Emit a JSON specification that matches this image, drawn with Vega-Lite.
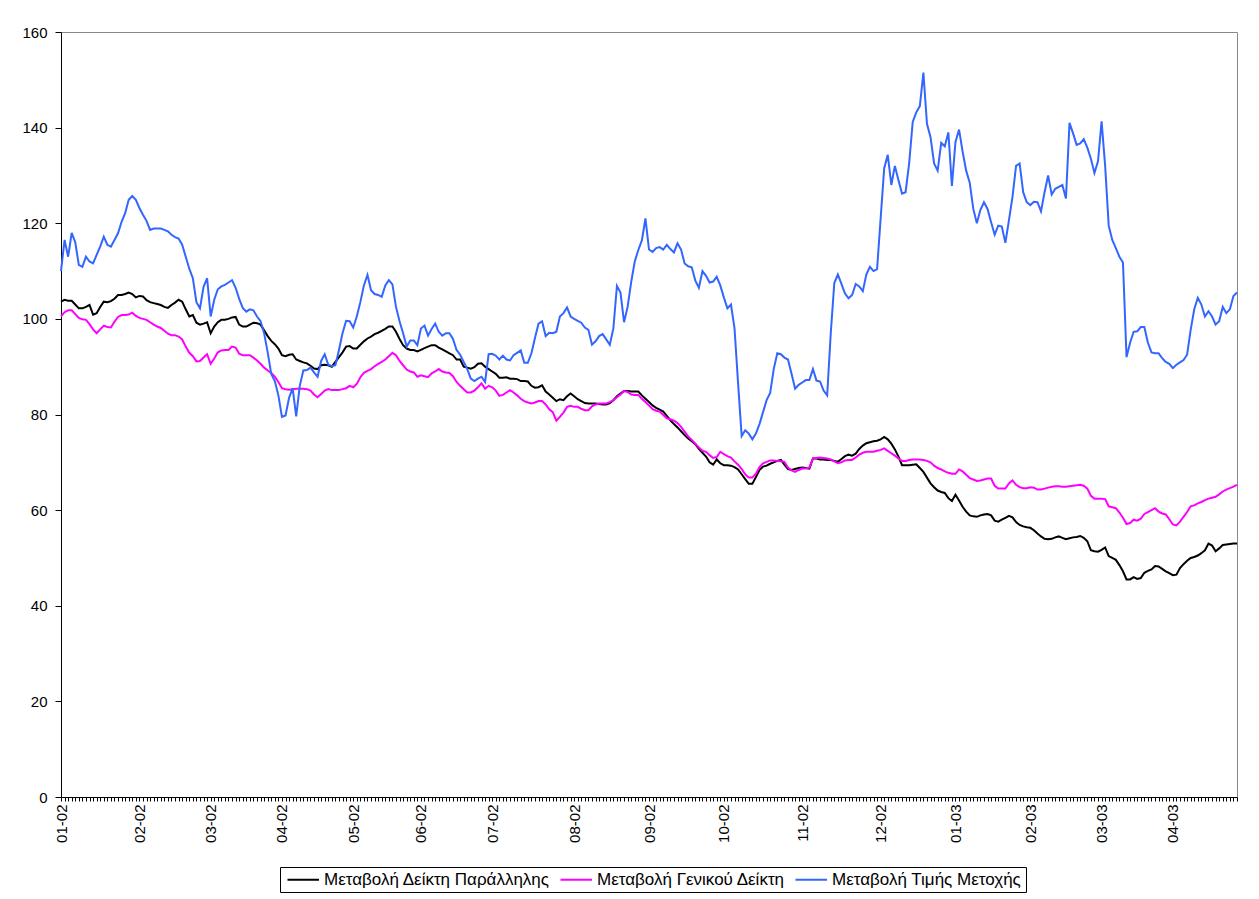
{
"$schema": "https://vega.github.io/schema/vega-lite/v6.json",
"width": 1176, "height": 765,
"autosize": "none",
"padding": {"left": 61, "top": 32, "right": 22, "bottom": 102},
"background": "#ffffff",
"config": {"view": {"stroke": "#888888", "strokeWidth": 1}, "font": "Liberation Sans"},
"data": {"values": [
{"d":0,"a":103.6,"b":100.5,"c":110},{"d":1,"a":104,"b":101.4,"c":116.5},{"d":2,"a":103.8,"b":101.8,"c":113},{"d":3,"a":103.8,"b":101.8,"c":118},{"d":4,"a":103,"b":101,"c":116},{"d":5,"a":102.2,"b":100.2,"c":111.3},{"d":6,"a":102.2,"b":99.9,"c":110.9},{"d":7,"a":102.5,"b":99.8,"c":113},{"d":8,"a":102.9,"b":98.9,"c":112},{"d":9,"a":100.9,"b":97.8,"c":111.6},
{"d":10,"a":101.2,"b":97,"c":113.4},{"d":11,"a":102.5,"b":97.8,"c":115.1},{"d":12,"a":103.6,"b":98.6,"c":117.2},{"d":13,"a":103.5,"b":98.3,"c":115.5},{"d":14,"a":103.7,"b":98.2,"c":115.1},{"d":15,"a":104.2,"b":99.4,"c":116.5},{"d":16,"a":105,"b":100.4,"c":117.9},{"d":17,"a":105,"b":100.8,"c":120.3},{"d":18,"a":105.2,"b":100.8,"c":122.1},{"d":19,"a":105.5,"b":100.9,"c":124.9},
{"d":20,"a":105.2,"b":101.3,"c":125.7},{"d":21,"a":104.5,"b":100.6,"c":124.9},{"d":22,"a":104.8,"b":100.2,"c":123.2},{"d":23,"a":104.7,"b":100,"c":121.8},{"d":24,"a":103.9,"b":99.8,"c":120.5},{"d":25,"a":103.5,"b":99.3,"c":118.6},{"d":26,"a":103.3,"b":98.8,"c":118.9},{"d":27,"a":103.1,"b":98.4,"c":118.9},{"d":28,"a":102.9,"b":98.1,"c":118.9},{"d":29,"a":102.5,"b":97.5,"c":118.6},
{"d":30,"a":102.3,"b":96.9,"c":118.3},{"d":31,"a":102.9,"b":96.6,"c":117.6},{"d":32,"a":103.4,"b":96.6,"c":117.1},{"d":33,"a":104,"b":96.3,"c":116.8},{"d":34,"a":103.6,"b":95.7,"c":115.5},{"d":35,"a":102,"b":94.2,"c":113},{"d":36,"a":100.5,"b":92.9,"c":110.5},{"d":37,"a":100.8,"b":92.2,"c":108.5},{"d":38,"a":99.2,"b":91.1,"c":103.5},{"d":39,"a":98.8,"b":91.2,"c":102.2},
{"d":40,"a":99,"b":91.9,"c":106.7},{"d":41,"a":99.3,"b":92.6,"c":108.5},{"d":42,"a":97,"b":90.6,"c":100.5},{"d":43,"a":98.4,"b":91.7,"c":104},{"d":44,"a":99.3,"b":93,"c":106.2},{"d":45,"a":99.8,"b":93.4,"c":106.8},{"d":46,"a":99.8,"b":93.5,"c":107.1},{"d":47,"a":100,"b":93.5,"c":107.6},{"d":48,"a":100.3,"b":94.2,"c":108.1},{"d":49,"a":100.4,"b":94,"c":106.5},
{"d":50,"a":98.8,"b":92.7,"c":104.2},{"d":51,"a":98.4,"b":92.4,"c":102.3},{"d":52,"a":98.4,"b":92.4,"c":101.5},{"d":53,"a":98.8,"b":92.4,"c":102},{"d":54,"a":99.2,"b":91.9,"c":101.8},{"d":55,"a":99.1,"b":91.3,"c":100.5},{"d":56,"a":98.8,"b":90.6,"c":99.5},{"d":57,"a":97.6,"b":89.8,"c":97},{"d":58,"a":96.4,"b":89.2,"c":93},{"d":59,"a":95.4,"b":88.7,"c":88.5},
{"d":60,"a":94.7,"b":87.9,"c":87},{"d":61,"a":93.8,"b":86.8,"c":84},{"d":62,"a":92.4,"b":85.5,"c":79.5},{"d":63,"a":92.2,"b":85.3,"c":79.8},{"d":64,"a":92.5,"b":85.2,"c":83.5},{"d":65,"a":92.6,"b":85.3,"c":85.5},{"d":66,"a":91.5,"b":85.4,"c":79.6},{"d":67,"a":91.2,"b":85.4,"c":86},{"d":68,"a":90.9,"b":85.4,"c":89.2},{"d":69,"a":90.7,"b":85.3,"c":89.3},
{"d":70,"a":90.2,"b":85,"c":89.8},{"d":71,"a":89.6,"b":84.2,"c":88.8},{"d":72,"a":89.5,"b":83.6,"c":87.9},{"d":73,"a":90.3,"b":84.3,"c":91.2},{"d":74,"a":90.4,"b":85,"c":92.6},{"d":75,"a":90.3,"b":85.3,"c":90.4},{"d":76,"a":90,"b":85.1,"c":90.1},{"d":77,"a":91,"b":85.1,"c":90.3},{"d":78,"a":92,"b":85.1,"c":93.5},{"d":79,"a":93,"b":85.3,"c":97},
{"d":80,"a":94.2,"b":85.5,"c":99.6},{"d":81,"a":94.3,"b":86,"c":99.5},{"d":82,"a":93.8,"b":85.7,"c":98.2},{"d":83,"a":93.8,"b":86.4,"c":100.5},{"d":84,"a":94.6,"b":87.8,"c":103.5},{"d":85,"a":95.3,"b":88.7,"c":107},{"d":86,"a":95.9,"b":89.1,"c":109.2},{"d":87,"a":96.3,"b":89.5,"c":106},{"d":88,"a":96.8,"b":90.1,"c":105.2},{"d":89,"a":97.1,"b":90.6,"c":105},
{"d":90,"a":97.5,"b":91,"c":104.6},{"d":91,"a":97.9,"b":91.5,"c":107},{"d":92,"a":98.4,"b":92.2,"c":108.1},{"d":93,"a":98.4,"b":92.9,"c":107.2},{"d":94,"a":97.3,"b":92.4,"c":102.5},{"d":95,"a":95.8,"b":91.2,"c":99.5},{"d":96,"a":94.5,"b":90.3,"c":97},{"d":97,"a":93.8,"b":89.4,"c":94.2},{"d":98,"a":93.5,"b":89,"c":95.5},{"d":99,"a":93.5,"b":88.8,"c":95.5},
{"d":100,"a":93.2,"b":87.9,"c":94.5},{"d":101,"a":93.5,"b":88.2,"c":98},{"d":102,"a":93.9,"b":88,"c":98.6},{"d":103,"a":94.2,"b":87.8,"c":96.5},{"d":104,"a":94.5,"b":88.6,"c":97.9},{"d":105,"a":94.5,"b":89,"c":99},{"d":106,"a":94,"b":89.5,"c":97.3},{"d":107,"a":93.6,"b":89,"c":96.5},{"d":108,"a":93.2,"b":88.8,"c":97},{"d":109,"a":92.8,"b":88.7,"c":97},
{"d":110,"a":92.4,"b":88,"c":95.8},{"d":111,"a":91.5,"b":86.8,"c":93.5},{"d":112,"a":91.5,"b":86,"c":92.5},{"d":113,"a":90,"b":85.3,"c":91},{"d":114,"a":89.8,"b":84.6,"c":89.5},{"d":115,"a":89.6,"b":84.6,"c":87.5},{"d":116,"a":89.9,"b":85,"c":87},{"d":117,"a":90.6,"b":85.7,"c":87.5},{"d":118,"a":90.7,"b":86.5,"c":87.9},{"d":119,"a":90,"b":85.4,"c":86.8},
{"d":120,"a":89.5,"b":86,"c":92.6},{"d":121,"a":89,"b":85.7,"c":92.7},{"d":122,"a":88.5,"b":85,"c":92.3},{"d":123,"a":87.7,"b":83.9,"c":91.5},{"d":124,"a":87.7,"b":84.1,"c":92.3},{"d":125,"a":87.8,"b":84.6,"c":91.5},{"d":126,"a":87.5,"b":85.1,"c":91.3},{"d":127,"a":87.5,"b":84.6,"c":92.4},{"d":128,"a":87.4,"b":84,"c":92.9},{"d":129,"a":87,"b":83.3,"c":93.4},
{"d":130,"a":87,"b":82.8,"c":90.8},{"d":131,"a":86.9,"b":82.5,"c":90.8},{"d":132,"a":86,"b":82.3,"c":92.8},{"d":133,"a":85.6,"b":82.5,"c":96},{"d":134,"a":85.7,"b":82.8,"c":99},{"d":135,"a":86.1,"b":82.8,"c":99.5},{"d":136,"a":84.8,"b":82.1,"c":96.4},{"d":137,"a":84.2,"b":81.1,"c":97.1},{"d":138,"a":83.5,"b":80.5,"c":97},{"d":139,"a":82.8,"b":78.7,"c":97.3},
{"d":140,"a":83.2,"b":79.5,"c":100.5},{"d":141,"a":83,"b":80.4,"c":101.2},{"d":142,"a":83.8,"b":81.6,"c":102.4},{"d":143,"a":84.4,"b":81.8,"c":100.5},{"d":144,"a":83.8,"b":81.6,"c":100},{"d":145,"a":83.2,"b":81.6,"c":99.6},{"d":146,"a":82.8,"b":81.2,"c":99.2},{"d":147,"a":82.4,"b":80.9,"c":98.2},{"d":148,"a":82.3,"b":80.9,"c":97.7},{"d":149,"a":82.3,"b":81.7,"c":94.6},
{"d":150,"a":82.3,"b":82.1,"c":95.3},{"d":151,"a":82.2,"b":82.3,"c":96.4},{"d":152,"a":82.1,"b":82.3,"c":96.8},{"d":153,"a":82.1,"b":82.3,"c":95.7},{"d":154,"a":82.4,"b":82.6,"c":94.6},{"d":155,"a":83,"b":83,"c":98},{"d":156,"a":83.8,"b":83.6,"c":106.9},{"d":157,"a":84.4,"b":84.2,"c":105.5},{"d":158,"a":84.9,"b":84.9,"c":99.3},{"d":159,"a":84.9,"b":84.7,"c":102.5},
{"d":160,"a":84.8,"b":84.2,"c":107.7},{"d":161,"a":84.8,"b":84.1,"c":112},{"d":162,"a":84.8,"b":84.1,"c":114.4},{"d":163,"a":84,"b":83.3,"c":116.4},{"d":164,"a":83.3,"b":82.6,"c":121},{"d":165,"a":82.6,"b":81.9,"c":114.5},{"d":166,"a":81.9,"b":81.1,"c":114},{"d":167,"a":81.4,"b":80.8,"c":114.8},{"d":168,"a":81,"b":80.6,"c":115},{"d":169,"a":80.6,"b":79.9,"c":114.5},
{"d":170,"a":79.7,"b":79.2,"c":115.5},{"d":171,"a":78.8,"b":79,"c":114.6},{"d":172,"a":78,"b":78.7,"c":113.9},{"d":173,"a":77.3,"b":78.2,"c":115.8},{"d":174,"a":76.5,"b":77.4,"c":114.5},{"d":175,"a":75.7,"b":76.4,"c":111.6},{"d":176,"a":75,"b":75.4,"c":111},{"d":177,"a":74.4,"b":74.7,"c":110.8},{"d":178,"a":73.8,"b":73.9,"c":108},{"d":179,"a":72.8,"b":73.1,"c":106.5},
{"d":180,"a":72,"b":72.4,"c":110},{"d":181,"a":71.2,"b":72.2,"c":109},{"d":182,"a":70,"b":71.5,"c":107.6},{"d":183,"a":69.5,"b":70.9,"c":107.8},{"d":184,"a":70.6,"b":71.1,"c":108.8},{"d":185,"a":69.8,"b":72.2,"c":107},{"d":186,"a":69.4,"b":71.7,"c":104.5},{"d":187,"a":69.4,"b":71.3,"c":102.2},{"d":188,"a":69.3,"b":71,"c":103},{"d":189,"a":69,"b":70.2,"c":98},
{"d":190,"a":68.5,"b":69.5,"c":86.5},{"d":191,"a":67.5,"b":68.6,"c":75.5},{"d":192,"a":66.5,"b":67.5,"c":76.7},{"d":193,"a":65.5,"b":66.8,"c":76},{"d":194,"a":65.5,"b":66.8,"c":74.8},{"d":195,"a":66.9,"b":67.6,"c":76},{"d":196,"a":68.4,"b":69,"c":78},{"d":197,"a":69.1,"b":69.8,"c":80.5},{"d":198,"a":69.3,"b":70.1,"c":83},{"d":199,"a":69.7,"b":70.4,"c":84.5},
{"d":200,"a":70,"b":70.4,"c":89.5},{"d":201,"a":70.3,"b":70.3,"c":92.8},{"d":202,"a":70.5,"b":70.2,"c":92.6},{"d":203,"a":69.5,"b":70.1,"c":91.9},{"d":204,"a":68.6,"b":68.9,"c":91.5},{"d":205,"a":68.4,"b":68.3,"c":88.5},{"d":206,"a":68.6,"b":68,"c":85.4},{"d":207,"a":68.8,"b":68.4,"c":86.2},{"d":208,"a":68.9,"b":68.7,"c":86.7},{"d":209,"a":68.8,"b":68.7,"c":87.2},
{"d":210,"a":68.7,"b":68.9,"c":87.2},{"d":211,"a":70.8,"b":70.8,"c":89.5},{"d":212,"a":70.8,"b":70.9,"c":87.1},{"d":213,"a":70.6,"b":71,"c":86.9},{"d":214,"a":70.6,"b":70.9,"c":85},{"d":215,"a":70.5,"b":70.8,"c":84},{"d":216,"a":70.5,"b":70.6,"c":97},{"d":217,"a":70.3,"b":70.2,"c":107.5},{"d":218,"a":70.1,"b":69.8,"c":109.3},{"d":219,"a":70.7,"b":70,"c":107.3},
{"d":220,"a":71.3,"b":70.4,"c":105.3},{"d":221,"a":71.6,"b":70.5,"c":104.3},{"d":222,"a":71.4,"b":70.5,"c":105},{"d":223,"a":71.8,"b":71,"c":107.3},{"d":224,"a":72.8,"b":71.6,"c":106.8},{"d":225,"a":73.5,"b":72,"c":105.8},{"d":226,"a":74,"b":72.2,"c":109.3},{"d":227,"a":74.2,"b":72.2,"c":110.9},{"d":228,"a":74.4,"b":72.2,"c":110},{"d":229,"a":74.5,"b":72.4,"c":110.4},
{"d":230,"a":74.8,"b":72.6,"c":121},{"d":231,"a":75.3,"b":72.9,"c":131.5},{"d":232,"a":74.8,"b":72.4,"c":134.3},{"d":233,"a":73.9,"b":71.9,"c":128},{"d":234,"a":72.7,"b":71.4,"c":132},{"d":235,"a":71.2,"b":70.8,"c":129},{"d":236,"a":69.4,"b":70.3,"c":126.2},{"d":237,"a":69.4,"b":70.3,"c":126.5},{"d":238,"a":69.4,"b":70.5,"c":132.5},{"d":239,"a":69.5,"b":70.6,"c":141.2},
{"d":240,"a":69.6,"b":70.6,"c":143.2},{"d":241,"a":68.8,"b":70.6,"c":144.5},{"d":242,"a":68,"b":70.5,"c":151.5},{"d":243,"a":66.8,"b":70.3,"c":140.8},{"d":244,"a":65.6,"b":70,"c":138},{"d":245,"a":64.8,"b":69.3,"c":132.5},{"d":246,"a":64.1,"b":68.8,"c":131},{"d":247,"a":63.8,"b":68.5,"c":136.8},{"d":248,"a":63.6,"b":68.1,"c":136.1},{"d":249,"a":62.5,"b":67.8,"c":139},
{"d":250,"a":61.9,"b":67.6,"c":127.8},{"d":251,"a":63.2,"b":67.6,"c":137},{"d":252,"a":62,"b":68.5,"c":139.6},{"d":253,"a":60.7,"b":68.1,"c":135},{"d":254,"a":59.7,"b":67.4,"c":131},{"d":255,"a":58.9,"b":66.7,"c":128.5},{"d":256,"a":58.7,"b":66.4,"c":123},{"d":257,"a":58.6,"b":66.1,"c":120},{"d":258,"a":58.9,"b":66.2,"c":122.8},{"d":259,"a":59.1,"b":66.4,"c":124.4},
{"d":260,"a":59.2,"b":66.6,"c":123},{"d":261,"a":58.9,"b":66.6,"c":120.2},{"d":262,"a":57.8,"b":65.1,"c":117.6},{"d":263,"a":57.6,"b":64.5,"c":119.5},{"d":264,"a":58,"b":64.5,"c":119.3},{"d":265,"a":58.4,"b":64.5,"c":115.9},{"d":266,"a":58.8,"b":65.6,"c":120.6},{"d":267,"a":58.5,"b":66.2,"c":125.5},{"d":268,"a":57.5,"b":65.3,"c":132},{"d":269,"a":56.9,"b":64.8,"c":132.5},
{"d":270,"a":56.6,"b":64.6,"c":126.5},{"d":271,"a":56.4,"b":64.6,"c":124.4},{"d":272,"a":56.3,"b":64.8,"c":123.8},{"d":273,"a":55.8,"b":64.7,"c":124.5},{"d":274,"a":55.1,"b":64.3,"c":124.4},{"d":275,"a":54.5,"b":64.3,"c":122.5},{"d":276,"a":54,"b":64.5,"c":126.5},{"d":277,"a":53.9,"b":64.7,"c":130},{"d":278,"a":54,"b":64.9,"c":126},{"d":279,"a":54.3,"b":65,"c":127.2},
{"d":280,"a":54.5,"b":65,"c":127.6},{"d":281,"a":54.2,"b":64.9,"c":128},{"d":282,"a":53.9,"b":64.9,"c":125.2},{"d":283,"a":54.1,"b":65,"c":141},{"d":284,"a":54.3,"b":65.1,"c":138.8},{"d":285,"a":54.4,"b":65.2,"c":136.4},{"d":286,"a":54.6,"b":65.3,"c":136.7},{"d":287,"a":54.2,"b":65.1,"c":137.6},{"d":288,"a":53.5,"b":64.5,"c":135.8},{"d":289,"a":51.6,"b":63,"c":133.5},
{"d":290,"a":51.4,"b":62.4,"c":130.5},{"d":291,"a":51.3,"b":62.4,"c":133},{"d":292,"a":51.7,"b":62.4,"c":141.3},{"d":293,"a":52.2,"b":62.3,"c":132},{"d":294,"a":50.4,"b":60.8,"c":119.5},{"d":295,"a":50,"b":60.6,"c":116.5},{"d":296,"a":49.6,"b":60.4,"c":114.8},{"d":297,"a":48.5,"b":59.5,"c":113},{"d":298,"a":47.2,"b":58.4,"c":111.8},{"d":299,"a":45.5,"b":57.1,"c":92},
{"d":300,"a":45.5,"b":57.3,"c":95},{"d":301,"a":46,"b":58,"c":97.3},{"d":302,"a":45.6,"b":57.8,"c":97.4},{"d":303,"a":45.8,"b":58.2,"c":98.3},{"d":304,"a":46.9,"b":59.2,"c":98.3},{"d":305,"a":47.3,"b":59.6,"c":95},{"d":306,"a":47.6,"b":60,"c":93},{"d":307,"a":48.3,"b":60.4,"c":92.8},{"d":308,"a":48.2,"b":59.7,"c":92.8},{"d":309,"a":47.7,"b":59.3,"c":91.8},
{"d":310,"a":47.2,"b":59.1,"c":91},{"d":311,"a":46.8,"b":58.1,"c":90.6},{"d":312,"a":46.4,"b":57,"c":89.7},{"d":313,"a":46.5,"b":56.8,"c":90.4},{"d":314,"a":47.9,"b":57.6,"c":90.9},{"d":315,"a":48.7,"b":58.6,"c":91.4},{"d":316,"a":49.4,"b":59.6,"c":92.5},{"d":317,"a":50,"b":60.8,"c":97.7},{"d":318,"a":50.2,"b":61,"c":102},{"d":319,"a":50.5,"b":61.4,"c":104.4},
{"d":320,"a":51,"b":61.7,"c":103},{"d":321,"a":51.6,"b":62.1,"c":100.5},{"d":322,"a":53,"b":62.4,"c":101.6},{"d":323,"a":52.6,"b":62.6,"c":100.5},{"d":324,"a":51.4,"b":62.8,"c":98.8},{"d":325,"a":52,"b":63.3,"c":99.5},{"d":326,"a":52.7,"b":63.9,"c":102.5},{"d":327,"a":52.8,"b":64.3,"c":101.2},{"d":328,"a":52.9,"b":64.6,"c":102},{"d":329,"a":53,"b":64.9,"c":104.8},
{"d":330,"a":53,"b":65.3,"c":105.5}
]},
"transform": [{"fold": ["a", "b", "c"], "as": ["series", "value"]}],
"mark": {"type": "line", "strokeWidth": 2, "interpolate": "linear"},
"encoding": {
  "x": {"field": "d", "type": "quantitative",
        "scale": {"domain": [0, 330], "nice": false, "zero": false},
        "axis": {"title": null, "grid": false, "tickCount": 330, "labelOverlap": false, "labelFlush": false,
                 "labelAngle": 270, "labelAlign": "right", "labelBaseline": "middle",
                 "labelFont": "Liberation Sans", "labelFontSize": 15, "labelColor": "#000000", "labelPadding": 3,
                 "tickSize": 4, "tickColor": "#000000", "domainColor": "#000000",
                 "labelExpr": "indexof([0,22,42,62,82,101,121,144,165,186,208,230,251,272,292,312], datum.value) < 0 ? '' : ['01-02','02-02','03-02','04-02','05-02','06-02','07-02','08-02','09-02','10-02','11-02','12-02','01-03','02-03','03-03','04-03'][indexof([0,22,42,62,82,101,121,144,165,186,208,230,251,272,292,312], datum.value)]"}},
  "y": {"field": "value", "type": "quantitative",
        "scale": {"domain": [0, 160], "nice": false},
        "axis": {"title": null, "grid": false, "values": [0,20,40,60,80,100,120,140,160],
                 "labelFont": "Liberation Sans", "labelFontSize": 15, "labelColor": "#000000", "labelPadding": 8,
                 "tickSize": 6, "tickColor": "#000000", "domainColor": "#000000"}},
  "color": {"field": "series", "type": "nominal",
            "scale": {"domain": ["a", "b", "c"], "range": ["#000000", "#ff00ff", "#3366ff"]},
            "legend": {"title": null, "orient": "none", "legendX": 219, "legendY": 835, "direction": "horizontal",
                       "strokeColor": "#000000", "fillColor": "#ffffff", "padding": 4,
                       "symbolType": "M-1,0H5.3", "symbolSize": 100, "symbolStrokeWidth": 2,
                       "labelFont": "Liberation Sans", "labelFontSize": 17, "labelColor": "#000000", "labelLimit": 500,
                       "labelOffset": 23, "columnPadding": 6,
                       "labelExpr": "datum.value == 'a' ? 'Μεταβολή Δείκτη Παράλληλης' : datum.value == 'b' ? 'Μεταβολή Γενικού Δείκτη' : 'Μεταβολή Τιμής Μετοχής'"}}
}
}
